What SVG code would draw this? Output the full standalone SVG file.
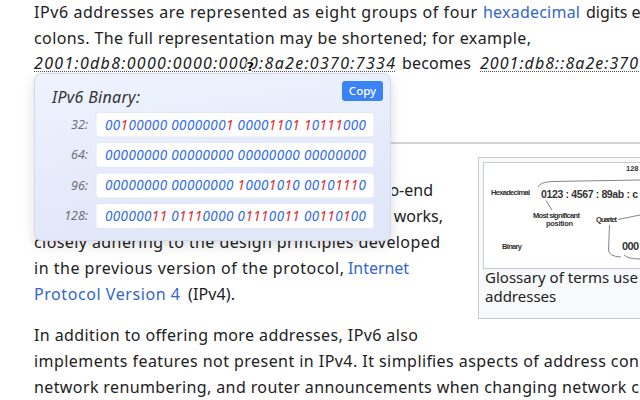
<svg xmlns="http://www.w3.org/2000/svg" width="640" height="400" viewBox="0 0 640 400">
<defs>
<style>
.body{font-family:"Noto Sans","Liberation Sans",sans-serif;font-size:16px;fill:#202122}
.link{fill:#3366cc}
.it{font-style:italic}
.lbl{font-family:"Noto Sans","Liberation Sans",sans-serif;font-size:12.5px;font-style:italic;fill:#6b6f78;text-anchor:end}
.bin{font-family:"Noto Sans","Liberation Sans",sans-serif;font-size:13.5px;font-style:italic;fill:#2f6bea}
.one{fill:#e0282e}
.row{fill:#ffffff;stroke:#e3e7f3;stroke-width:1}
.fig{font-family:"Liberation Sans",Arial,sans-serif;font-weight:bold;fill:#333}
.dot{stroke:#555;stroke-width:1;stroke-dasharray:1 1}
.curve{fill:none;stroke:#666;stroke-width:0.8}
</style>
<linearGradient id="pg" x1="0" y1="0" x2="0.3" y2="1">
<stop offset="0" stop-color="#eef3fe"/>
<stop offset="1" stop-color="#e1e6f9"/>
</linearGradient>
<filter id="sh" x="-10%" y="-10%" width="120%" height="130%">
<feDropShadow dx="0" dy="4" stdDeviation="6" flood-color="#000" flood-opacity="0.14"/>
</filter>
<clipPath id="rightOfPopup"><rect x="392" y="150" width="248" height="100"/></clipPath>
<clipPath id="figclip"><rect x="483" y="162" width="157" height="107"/></clipPath>
</defs>

<rect width="640" height="400" fill="#ffffff"/>

<g id="para1">
<text class="body" x="34" y="18" textLength="443">IPv6 addresses are represented as eight groups of four</text>
<text class="body link" x="483" y="18" textLength="97">hexadecimal</text>
<text class="body" x="586" y="18">digits e</text>
<text class="body" x="34" y="44" textLength="497">colons. The full representation may be shortened; for example,</text>
<text class="body it" x="34" y="69" textLength="361">2001:0db8:0000:0000:0000:8a2e:0370:7334</text>
<text class="body" x="402" y="69" textLength="69">becomes</text>
<text class="body it" x="480" y="69" textLength="158">2001:db8::8a2e:370</text>
<line class="dot" x1="34" y1="71.5" x2="395" y2="71.5"/>
<line class="dot" x1="480" y1="71.5" x2="640" y2="71.5"/>
</g>

<g id="heading-rule">
<line x1="34" y1="143" x2="640" y2="143" stroke="#a2a9b1" stroke-width="1"/>
</g>

<g id="para2">
<g clip-path="url(#rightOfPopup)">
<text class="body" x="433" y="196" text-anchor="end">o-end</text>
</g>
<text class="body" x="443" y="222" text-anchor="end">works,</text>
<text class="body" x="34" y="248" textLength="406">closely adhering to the design principles developed</text>
<text class="body" x="34" y="274" textLength="310">in the previous version of the protocol,</text>
<text class="body link" x="348" y="274" textLength="61">Internet</text>
<text class="body link" x="34" y="300" textLength="146">Protocol Version 4</text>
<text class="body" x="188" y="300" textLength="47">(IPv4).</text>
</g>

<g id="figure">
<rect x="478.5" y="157.5" width="170" height="161" fill="#f8f9fa" stroke="#c8ccd1"/>
<rect x="483.5" y="162.5" width="165" height="106" fill="#ffffff" stroke="#c8ccd1"/>
<g clip-path="url(#figclip)">
<text class="fig" x="626" y="171" font-size="7.5">128</text>
<path class="curve" d="M538 187 Q540 182 552 181.5 L640 180"/>
<text class="fig" x="491" y="194.5" font-size="7.5" textLength="39">Hexadecimal</text>
<text class="fig" x="541" y="198" font-size="10.5" fill="#111" textLength="97">0123  : 4567 : 89ab : c</text>
<line x1="546" y1="200.5" x2="552" y2="210" stroke="#666" stroke-width="0.8"/>
<text class="fig" x="533" y="218" font-size="7.5" textLength="47">Most significant</text>
<text class="fig" x="546" y="226" font-size="7.5" textLength="27">position</text>
<text class="fig" x="596" y="221.5" font-size="7.5" textLength="21">Quartet</text>
<line x1="618" y1="219.5" x2="640" y2="215" stroke="#666" stroke-width="0.8"/>
<path class="curve" d="M609.5 225 L608.5 250 Q609 256.5 621 257"/>
<text class="fig" x="502" y="248.5" font-size="7.5" textLength="20">Binary</text>
<text class="fig" x="622" y="250" font-size="11" fill="#111" textLength="17">000</text>
<path class="curve" d="M624 255 Q628 259 640 259"/>
</g>
<text class="body" x="485" y="283" style="font-size:15px" textLength="153">Glossary of terms use</text>
<text class="body" x="485" y="302" style="font-size:15px">addresses</text>
</g>

<g id="para3">
<text class="body" x="34" y="341" textLength="384">In addition to offering more addresses, IPv6 also</text>
<text class="body" x="34" y="367" textLength="605">implements features not present in IPv4. It simplifies aspects of address con</text>
<text class="body" x="34" y="393" textLength="605">network renumbering, and router announcements when changing network c</text>
</g>

<g id="popup">
<rect x="34.5" y="73.5" width="356" height="167" rx="7" fill="url(#pg)" stroke="#d3d9ee" filter="url(#sh)"/>
<text x="52" y="102.5" font-family="Noto Sans, Liberation Sans, sans-serif" font-size="16" font-style="italic" fill="#333" textLength="88">IPv6 Binary:</text>
<g id="copy-button">
<rect x="342" y="81" width="41" height="20" rx="3" fill="#3b82f6"/>
<text x="362.5" y="95" text-anchor="middle" font-family="Noto Sans, Liberation Sans, sans-serif" font-size="11.5" font-weight="500" fill="#ffffff">Copy</text>
</g>
<g id="row32">
<rect class="row" x="96" y="112.5" width="278" height="24.5" rx="3"/>
<text class="lbl" x="88" y="129">32:</text>
<text class="bin" x="105" y="129.5" textLength="261">00<tspan class="one">1</tspan>00000 0000000<tspan class="one">1</tspan> 0000<tspan class="one">11</tspan>0<tspan class="one">1</tspan> <tspan class="one">1</tspan>0<tspan class="one">111</tspan>000</text>
</g>
<g id="row64">
<rect class="row" x="96" y="142.5" width="278" height="25" rx="3"/>
<text class="lbl" x="88" y="159">64:</text>
<text class="bin" x="105" y="159.5" textLength="261">00000000 00000000 00000000 00000000</text>
</g>
<g id="row96">
<rect class="row" x="96" y="173" width="278" height="25" rx="3"/>
<text class="lbl" x="88" y="189.5">96:</text>
<text class="bin" x="105" y="190" textLength="261">00000000 00000000 <tspan class="one">1</tspan>000<tspan class="one">1</tspan>0<tspan class="one">1</tspan>0 00<tspan class="one">1</tspan>0<tspan class="one">111</tspan>0</text>
</g>
<g id="row128">
<rect class="row" x="96" y="203.5" width="278" height="25" rx="3"/>
<text class="lbl" x="88" y="220">128:</text>
<text class="bin" x="105" y="220.5" textLength="261">000000<tspan class="one">11</tspan> 0<tspan class="one">111</tspan>0000 0<tspan class="one">111</tspan>00<tspan class="one">11</tspan> 00<tspan class="one">11</tspan>0<tspan class="one">1</tspan>00</text>
</g>
</g>

<g id="cursor">
<text x="246.5" y="71" font-family="DejaVu Sans, sans-serif" font-size="13" font-weight="bold" fill="#000" stroke="#fff" stroke-width="2" paint-order="stroke">?</text>
</g>
</svg>
